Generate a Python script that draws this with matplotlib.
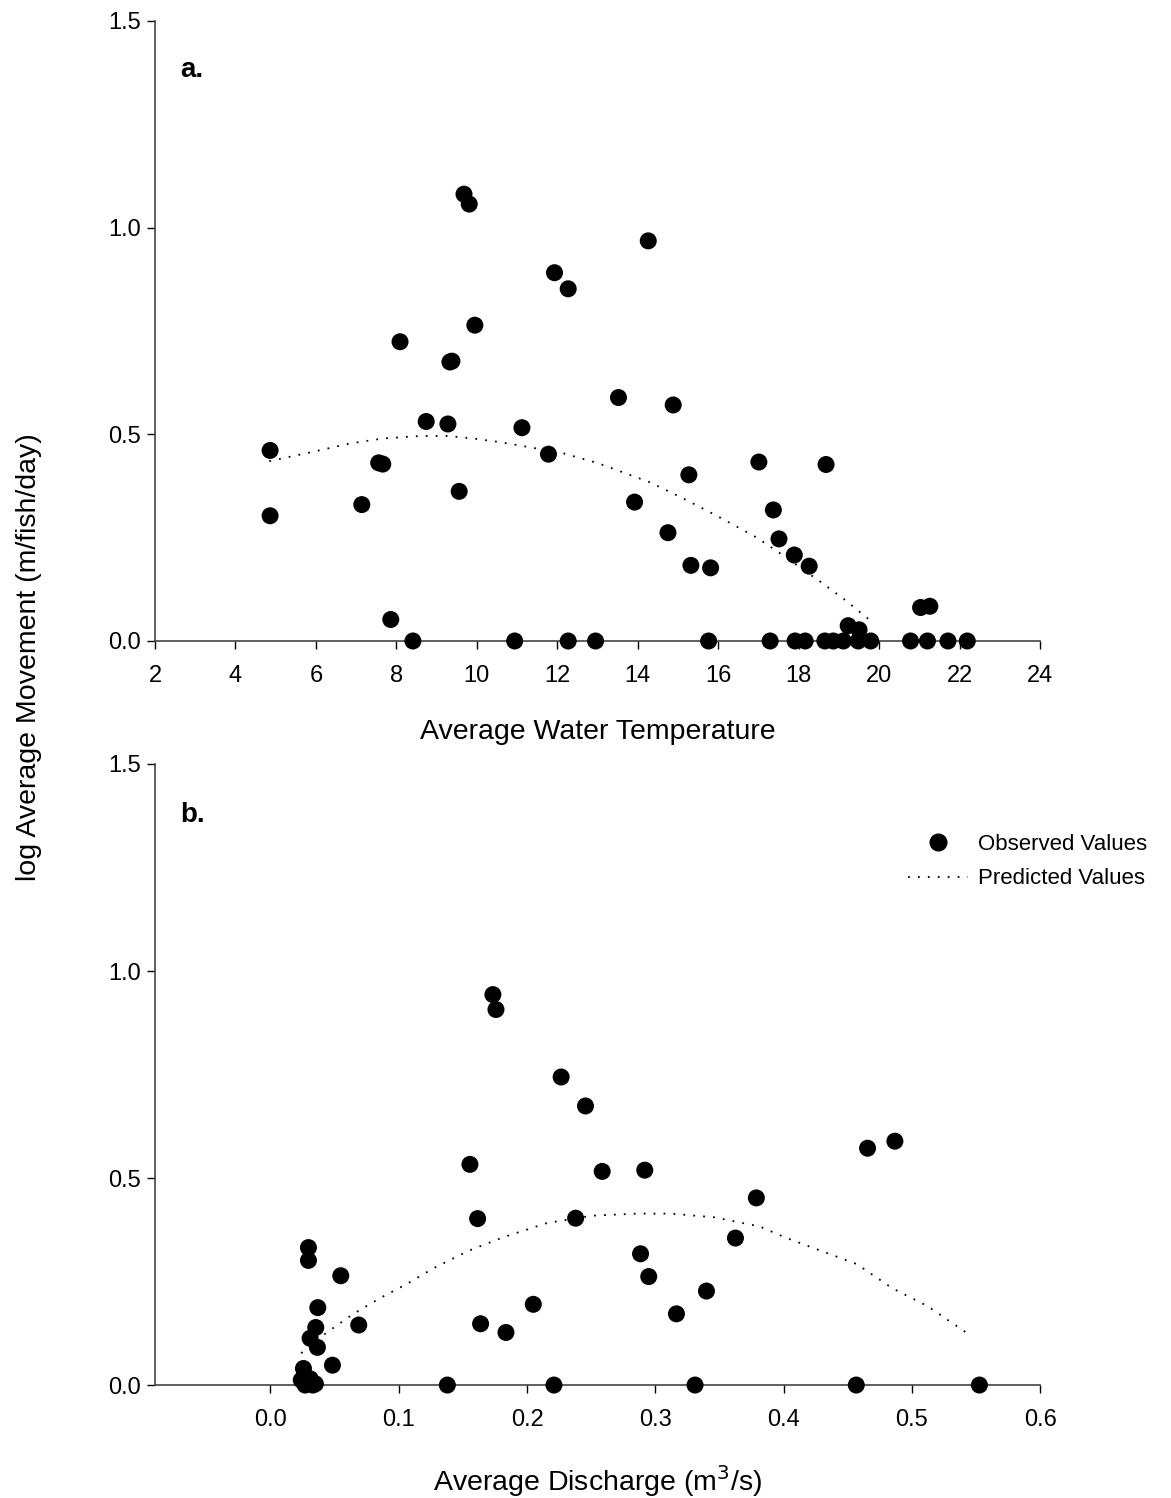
import matplotlib
matplotlib.use('Agg')
import matplotlib.pyplot as plt
from matplotlib.lines import Line2D

plt.rcParams['font.family'] = ['Liberation Sans', 'DejaVu Sans']

# panel a: temperature
temp_obs = [4.86, 4.86, 7.14, 7.56, 7.66, 7.86, 8.09, 8.41, 8.74, 9.28, 9.33, 9.38,
            9.56, 9.68, 9.81, 9.95, 10.94, 11.12, 11.78, 11.93, 12.27, 12.27, 12.95,
            13.52, 13.92, 14.26, 14.75, 14.88, 15.27, 15.32, 15.76, 15.81, 17.01,
            17.29, 17.37, 17.51, 17.89, 17.91, 18.16, 18.26, 18.65, 18.68, 18.86,
            19.11, 19.23, 19.48, 19.50, 19.79, 20.78, 21.03, 21.20, 21.26, 21.71, 22.19]
move_a_obs = [0.461, 0.303, 0.330, 0.431, 0.428, 0.052, 0.724, 0.0, 0.531, 0.525, 0.675, 0.677,
              0.362, 1.081, 1.057, 0.764, 0.0, 0.516, 0.452, 0.891, 0.852, 0.0, 0.0,
              0.589, 0.336, 0.968, 0.262, 0.571, 0.402, 0.183, 0.0, 0.177, 0.433,
              0.0, 0.317, 0.247, 0.208, 0.0, 0.0, 0.181, 0.0, 0.427, 0.0,
              0.0, 0.037, 0.0, 0.027, 0.0, 0.0, 0.081, 0.0, 0.084, 0.0, 0.0]
temp_pred = [4.84, 5.94, 6.85, 7.67, 8.59, 9.25, 9.91, 10.58, 11.24, 12.15, 13.02,
             13.21, 14.30, 15.17, 16.04, 16.96, 17.60, 18.46, 19.13, 19.80]
move_a_pred = [0.435, 0.458, 0.478, 0.490, 0.496, 0.496, 0.490, 0.481, 0.470, 0.454, 0.430,
               0.423, 0.384, 0.343, 0.299, 0.250, 0.208, 0.149, 0.101, 0.048]

# panel b: discharge
disch_obs = [0.0240, 0.027, 0.029, 0.031, 0.033, 0.035, 0.0257, 0.0296, 0.0296, 0.0309,
             0.0353, 0.0366, 0.0369, 0.0483, 0.0548, 0.0688, 0.1379, 0.1555, 0.1615,
             0.1638, 0.1734, 0.1758, 0.1836, 0.2049, 0.2210, 0.2266, 0.2379, 0.2456,
             0.2586, 0.2885, 0.2918, 0.2949, 0.3165, 0.3310, 0.3399, 0.3625, 0.3788,
             0.4567, 0.4655, 0.4868, 0.5527]
move_b_obs = [0.012, 0.0, 0.005, 0.015, 0.0, 0.003, 0.040, 0.332, 0.301, 0.113,
              0.139, 0.091, 0.187, 0.048, 0.264, 0.145, 0.0, 0.533, 0.402,
              0.148, 0.943, 0.907, 0.127, 0.195, 0.0, 0.744, 0.403, 0.674,
              0.516, 0.317, 0.519, 0.262, 0.172, 0.0, 0.227, 0.355, 0.452,
              0.0, 0.572, 0.589, 0.0]
disch_pred = [0.0239, 0.0439, 0.0647, 0.0854, 0.1062, 0.127, 0.1542, 0.1815, 0.2153,
              0.2503, 0.2854, 0.3126, 0.3463, 0.3814, 0.4016, 0.4294, 0.4572, 0.4847,
              0.512, 0.5462]
move_b_pred = [0.077, 0.127, 0.172, 0.210, 0.244, 0.282, 0.324, 0.357, 0.391,
               0.409, 0.414, 0.414, 0.405, 0.383, 0.356, 0.324, 0.292, 0.234,
               0.191, 0.119]

fig = plt.figure(figsize=(11.71, 14.98), dpi=100)
ax1 = fig.add_axes([0.1324, 0.5721, 0.7558, 0.4139])
ax2 = fig.add_axes([0.1324, 0.0754, 0.7558, 0.4146])

dot = (0, (1, 4.5))
spine_col = '#444444'

for ax in (ax1, ax2):
    for s in ('top', 'right'):
        ax.spines[s].set_visible(False)
    for s in ('left', 'bottom'):
        ax.spines[s].set_color(spine_col)
        ax.spines[s].set_linewidth(1.2)
    ax.tick_params(direction='out', length=6, width=1.0, color='black', labelsize=17)
    ax.tick_params(axis='x', pad=11)
    ax.tick_params(axis='y', pad=4)
    ax.set_ylim(0, 1.5)
    ax.set_yticks([0.0, 0.5, 1.0, 1.5])
    ax.set_yticklabels(['0.0', '0.5', '1.0', '1.5'])

ax1.plot(temp_pred, move_a_pred, color='black', lw=1.3, linestyle=dot, zorder=2)
ax1.scatter(temp_obs, move_a_obs, s=150, color='black', edgecolors='none',
            clip_on=False, zorder=3)
ax1.set_xlim(2, 24)
ax1.set_xticks(range(2, 25, 2))
ax1.set_xlabel('Average Water Temperature', fontsize=20.5, labelpad=23)
ax1.text(0.028, 0.91, 'a.', transform=ax1.transAxes, fontsize=20,
         fontweight='bold', va='baseline')

ax2.plot(disch_pred, move_b_pred, color='black', lw=1.3, linestyle=dot, zorder=2)
ax2.scatter(disch_obs, move_b_obs, s=150, color='black', edgecolors='none',
            clip_on=False, zorder=3)
ax2.set_xlim(-0.09, 0.6)
ax2.set_xticks([0.0, 0.1, 0.2, 0.3, 0.4, 0.5, 0.6])
ax2.set_xticklabels(['0.0', '0.1', '0.2', '0.3', '0.4', '0.5', '0.6'])
ax2.set_xlabel('Average Discharge (m$^3$/s)', fontsize=20.5, labelpad=23)
ax2.text(0.028, 0.907, 'b.', transform=ax2.transAxes, fontsize=20,
         fontweight='bold', va='baseline')

handles = [Line2D([], [], marker='o', color='black', linestyle='none', markersize=12),
           Line2D([], [], color='black', lw=1.3, linestyle=dot)]
fig.legend(handles, ['Observed Values', 'Predicted Values'], loc='upper left',
           bbox_to_anchor=(0.7586, 0.4566), frameon=False, fontsize=16,
           handlelength=2.7, handletextpad=0.45, labelspacing=0.6)

fig.text(0.025, 0.561, 'log Average Movement (m/fish/day)', rotation=90,
         fontsize=20.5, ha='center', va='center')

fig.savefig('out.png', dpi=100)
